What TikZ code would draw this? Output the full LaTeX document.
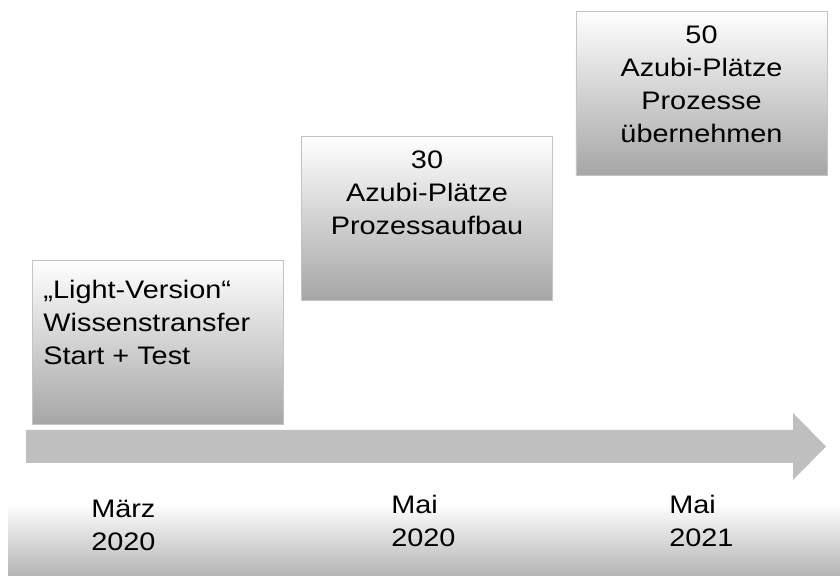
\documentclass[tikz,border=0pt]{standalone}
\usepackage{fontspec}
\setmainfont{Liberation Sans}[FakeStretch=1.14]
\usetikzlibrary{positioning}

\definecolor{boxgray}{HTML}{A6A6A6}
\definecolor{boxline}{HTML}{C4C4C4}
\definecolor{arrowgray}{HTML}{BFBFBF}
\definecolor{bandgray}{HTML}{B4B4B4}

\begin{document}
\begin{tikzpicture}[
    x=0.025cm, y=0.025cm, % une unité = un pixel de l'image
    % Réglages des cases et des textes
    phase/.style={draw=boxline, top color=white, middle color=white, bottom color=boxgray,
        minimum width=6.275cm, minimum height=4.1cm, inner sep=0pt},
    every node/.style={font=\fontsize{18}{23.4}\selectfont, inner sep=0pt},
    phasetext/.style={align=center},
    datetext/.style={anchor=north west, align=left}
]
\useasboundingbox (0,0) rectangle (840,576);
% Bande du bas
\shade[top color=white, bottom color=bandgray] (8,0) rectangle (840,73);
% Flèche du temps
\fill[arrowgray] (26,113) -- (793,113) -- (793,96) -- (826,129.5)
    -- (793,163) -- (793,146) -- (26,146) -- cycle;
% Les trois étapes
\node[phase] (phase1) at (158,234) {};
\node[phase] (phase2) at (427,358) {};
\node[phase] (phase3) at (701.5,483) {};
\node[align=left, below right=0.5cm and 0.275cm of phase1.north west] (text1)
    {„Light-Version“\\Wissenstransfer\\Start + Test};
\node[phasetext, below=0.375cm of phase2.north] (text2)
    {30\\Azubi-Plätze\\Prozessaufbau};
\node[phasetext, below=0.375cm of phase3.north] (text3)
    {50\\Azubi-Plätze\\Prozesse\\übernehmen};
% Dates
\node[datetext] (date1) at (91,76) {März\\2020};
\node[datetext] (date2) at (391,81) {Mai\\2020};
\node[datetext] (date3) at (669,81) {Mai\\2021};
\end{tikzpicture}
\end{document}
